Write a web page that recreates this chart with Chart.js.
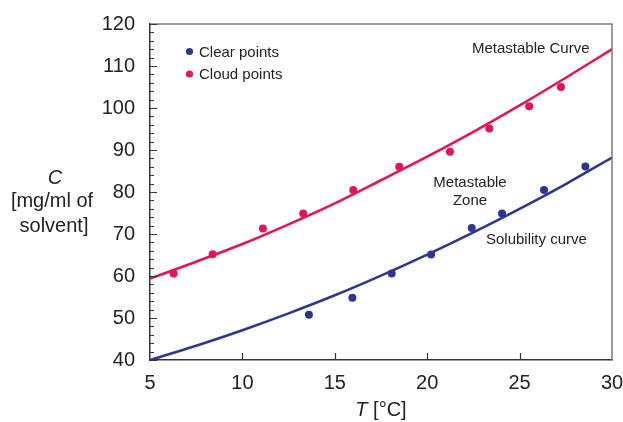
<!DOCTYPE html>
<html>
<head>
<meta charset="utf-8">
<script src="https://cdn.jsdelivr.net/npm/chart.js@4.4.1/dist/chart.umd.min.js"></script>
<style>
  html, body { margin: 0; padding: 0; background: #ffffff; }
  #wrap { width: 623px; height: 422px; }
</style>
</head>
<body>
<div id="wrap"><canvas id="c" width="623" height="422"></canvas></div>
<script>
// ---- data ----
const clearT = [13.6, 15.95, 18.08, 20.21, 22.41, 24.05, 26.32, 28.56];
const clearC = [50.8, 54.8, 60.6, 65.1, 71.4, 74.9, 80.5, 86.1];
const cloudT = [6.28, 8.39, 11.11, 13.29, 16.0, 18.49, 21.23, 23.36, 25.52, 27.24];
const cloudC = [60.6, 65.2, 71.3, 74.9, 80.5, 86.0, 89.6, 95.1, 100.4, 105.0];
const curveT = [5, 7.5, 10, 12.5, 15, 17.5, 20, 22.5, 25, 27.5, 30];
const metastableC = [59.4, 63.4, 67.6, 72.3, 77.3, 82.8, 88.4, 94.3, 100.6, 107.2, 114.0];
const solubilityC = [40.0, 43.4, 47.1, 51.1, 55.4, 60.1, 65.1, 70.4, 76.0, 81.9, 88.2];
const xTicks = [5, 10, 15, 20, 25, 30];
const yTicks = [40, 50, 60, 70, 80, 90, 100, 110, 120];
const seriesLabels = ["Clear points", "Cloud points"];
const annotations = [
  { lines: ["Metastable Curve"], x: 472, y: 53, align: "left" },
  { lines: ["Metastable", "Zone"], x: 470, y: 187, align: "center" },
  { lines: ["Solubility curve"], x: 486, y: 244, align: "left" }
];

const BLUE = "#2d3690";
const PINK = "#e5135c";
const FONT = "'Liberation Sans', Arial, Helvetica, sans-serif";

const pts = (xs, ys) => xs.map((x, i) => ({ x: x, y: ys[i] }));

const decor = {
  id: "decor",
  afterDatasetsDraw(chart) {
    const ctx = chart.ctx;
    const a = chart.chartArea;
    const xs = chart.scales.x, ys = chart.scales.y;
    ctx.save();
    // top and right frame
    ctx.strokeStyle = "#7a7a7a";
    ctx.lineWidth = 1.5;
    ctx.beginPath();
    ctx.moveTo(a.left, a.top);
    ctx.lineTo(a.right, a.top);
    ctx.lineTo(a.right, a.bottom);
    ctx.stroke();
    // inward ticks
    ctx.strokeStyle = "#333";
    ctx.lineWidth = 1.2;
    ctx.beginPath();
    for (let v = ys.min; v <= ys.max; v += 2) {
      const py = Math.round(ys.getPixelForValue(v)) + 0.5;
      const len = (v % 10 === 0) ? 7 : 4;
      ctx.moveTo(a.left, py);
      ctx.lineTo(a.left + len, py);
    }
    xTicks.forEach(v => {
      if (v === xs.min || v === xs.max) return;
      const px = Math.round(xs.getPixelForValue(v)) + 0.5;
      ctx.moveTo(px, a.bottom);
      ctx.lineTo(px, a.bottom - 7);
    });
    ctx.stroke();
    // legend
    const legendColors = [BLUE, PINK];
    ctx.font = "15px " + FONT;
    ctx.textAlign = "left";
    ctx.textBaseline = "alphabetic";
    seriesLabels.forEach((lab, i) => {
      const cy = a.top + 27.5 + i * 22.5;
      ctx.fillStyle = legendColors[i];
      ctx.beginPath();
      ctx.arc(a.left + 39.5, cy, 3.6, 0, Math.PI * 2);
      ctx.fill();
      ctx.fillStyle = "#222";
      ctx.fillText(lab, a.left + 49, cy + 5);
    });
    // annotations
    ctx.font = "15px " + FONT;
    ctx.fillStyle = "#222";
    annotations.forEach(an => {
      ctx.textAlign = an.align;
      an.lines.forEach((ln, j) => ctx.fillText(ln, an.x, an.y + j * 17.5));
    });
    // x title: italic T + rest
    const t1 = "T", t2 = " [°C]";
    ctx.font = "italic 20px " + FONT;
    const w1 = ctx.measureText(t1).width;
    ctx.font = "20px " + FONT;
    const w2 = ctx.measureText(t2).width;
    const xc = (a.left + a.right) / 2;
    const x0 = xc - (w1 + w2) / 2;
    ctx.textAlign = "left";
    ctx.font = "italic 20px " + FONT;
    ctx.fillText(t1, x0, 416);
    ctx.font = "20px " + FONT;
    ctx.fillText(t2, x0 + w1, 416);
    // y title
    ctx.textAlign = "center";
    ctx.font = "italic 20px " + FONT;
    ctx.fillText("C", 55, 184);
    ctx.font = "20px " + FONT;
    ctx.fillText("[mg/ml of", 52, 207);
    ctx.fillText("solvent]", 54, 232);
    ctx.restore();
  }
};

new Chart(document.getElementById("c"), {
  type: "scatter",
  data: {
    datasets: [
      { label: seriesLabels[0], data: pts(clearT, clearC), backgroundColor: BLUE, borderColor: BLUE, pointRadius: 4, pointBorderWidth: 0, showLine: false },
      { label: seriesLabels[1], data: pts(cloudT, cloudC), backgroundColor: PINK, borderColor: PINK, pointRadius: 4, pointBorderWidth: 0, showLine: false },
      { label: "Solubility curve", data: pts(curveT, solubilityC), borderColor: BLUE, borderWidth: 2.6, pointRadius: 0, showLine: true, cubicInterpolationMode: "monotone", fill: false },
      { label: "Metastable curve", data: pts(curveT, metastableC), borderColor: PINK, borderWidth: 2.6, pointRadius: 0, showLine: true, cubicInterpolationMode: "monotone", fill: false }
    ]
  },
  options: {
    responsive: false,
    animation: false,
    devicePixelRatio: 1,
    layout: { padding: { left: 0, right: 11, top: 24, bottom: 0 } },
    plugins: { legend: { display: false }, tooltip: { enabled: false } },
    scales: {
      x: {
        type: "linear", min: 5, max: 30,
        afterBuildTicks: s => { s.ticks = xTicks.map(v => ({ value: v })); },
        afterFit: s => { s.height = 62; s.paddingLeft = 0; s.paddingRight = 0; },
        grid: { display: false, drawTicks: false },
        border: { display: true, color: "#333", width: 1.5 },
        ticks: { font: { family: FONT, size: 20 }, color: "#222", padding: 11, maxRotation: 0 }
      },
      y: {
        type: "linear", min: 40, max: 120,
        afterBuildTicks: s => { s.ticks = yTicks.map(v => ({ value: v })); },
        afterFit: s => { s.width = 150; s.paddingTop = 0; s.paddingBottom = 0; },
        grid: { display: false, drawTicks: false },
        border: { display: true, color: "#333", width: 1.5 },
        ticks: { font: { family: FONT, size: 20 }, color: "#222", padding: 15 }
      }
    }
  },
  plugins: [decor]
});
</script>
</body>
</html>
